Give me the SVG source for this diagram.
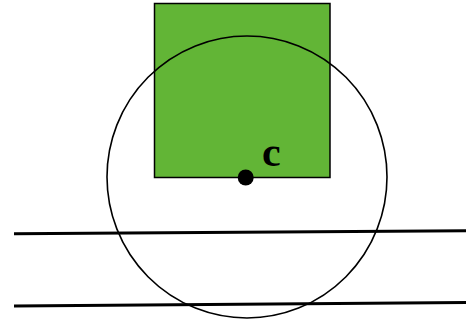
<svg xmlns="http://www.w3.org/2000/svg" width="466" height="322" viewBox="0 0 466 322">
<style>
.line{stroke:#000;stroke-width:3;fill:none}
.circ{stroke:#000;stroke-width:1.6;fill:none}
.sq{fill:#62b536;stroke:#000;stroke-width:1.5}
.lbl{font-family:"Liberation Serif",serif;font-weight:bold;font-size:42px;fill:#000}
</style>
<rect width="466" height="322" fill="#fff"/>
<g id="square"><rect class="sq" x="154.5" y="3.5" width="175.5" height="174"/></g>
<g id="circle"><ellipse class="circ" cx="247" cy="177" rx="140" ry="141"/></g>
<g id="connectors">
<line class="line" x1="14" y1="233.7" x2="466" y2="230.7"/>
<line class="line" x1="14" y1="306" x2="466" y2="302.5"/>
</g>
<g id="center"><circle cx="245.7" cy="177.5" r="8" fill="#000"/><text class="lbl" x="262" y="166">c</text></g>
</svg>
